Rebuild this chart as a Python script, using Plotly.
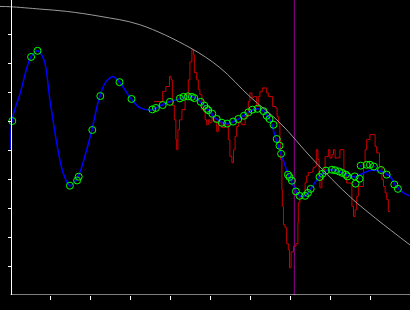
import plotly.graph_objects as go

# Gray reference curve
gray_x = [-0.26, 0.0, 0.74, 1.41, 2.24, 3.24, 4.49, 5.24, 5.99, 6.74, 7.57, 8.57, 9.99]
gray_y = [9.95, 9.94, 9.86, 9.78, 9.61, 9.32, 8.53, 7.84, 6.84, 5.94, 4.67, 3.29, 1.73]

# Blue smooth curve
blue_x = [0.01, 0.04, 0.24, 0.52, 0.68, 0.84, 0.99, 1.19, 1.32, 1.49, 1.69, 1.91, 2.04, 2.24,
          2.39, 2.57, 2.72, 3.02, 3.24, 3.54, 3.79, 3.99, 4.24, 4.44, 4.62, 4.77, 4.92, 5.14,
          5.42, 5.69, 5.94, 6.17, 6.32, 6.49, 6.64, 6.77, 6.97, 7.14, 7.24, 7.37, 7.52, 7.72,
          7.89, 8.04, 8.24, 8.44, 8.62, 8.79, 8.99, 9.16, 9.32, 9.49, 9.66, 9.82, 9.99]
blue_y = [5.01, 6.01, 6.92, 8.22, 8.42, 8.11, 6.73, 5.01, 4.22, 3.77, 4.08, 5.01, 5.70, 6.87,
          7.35, 7.53, 7.35, 6.77, 6.46, 6.39, 6.56, 6.67, 6.77, 6.86, 6.80, 6.63, 6.42, 6.08,
          5.91, 6.06, 6.29, 6.42, 6.36, 6.04, 5.39, 4.87, 4.08, 3.60, 3.41, 3.42, 3.67, 4.08,
          4.29, 4.32, 4.25, 4.11, 4.08, 4.18, 4.29, 4.29, 4.25, 4.09, 3.74, 3.53, 3.42]

# Green observation circles
obs_x = [0.05, 0.52, 0.68, 1.49, 1.67, 1.71, 2.05, 2.25, 2.73, 3.03, 3.55, 3.64, 3.81, 3.99,
         4.24, 4.33, 4.44, 4.54, 4.60, 4.76, 4.85, 4.91, 4.95, 5.05, 5.16, 5.29, 5.42, 5.57,
         5.70, 5.84, 5.95, 6.05, 6.18, 6.33, 6.41, 6.48, 6.58, 6.66, 6.73, 6.77, 6.94, 6.98,
         7.04, 7.14, 7.23, 7.37, 7.44, 7.51, 7.73, 7.80, 7.89, 8.04, 8.12, 8.22, 8.30, 8.39,
         8.43, 8.61, 8.63, 8.73, 8.76, 8.91, 8.99, 9.09, 9.27, 9.41, 9.60, 9.69]
obs_y = [6.00, 8.21, 8.42, 3.77, 3.95, 4.08, 5.69, 6.86, 7.34, 6.76, 6.40, 6.45, 6.55, 6.66,
         6.78, 6.83, 6.85, 6.83, 6.79, 6.66, 6.53, 6.42, 6.37, 6.25, 6.07, 5.94, 5.91, 5.98,
         6.07, 6.18, 6.30, 6.39, 6.42, 6.34, 6.18, 6.07, 5.87, 5.38, 5.15, 4.87, 4.15, 4.07,
         3.94, 3.57, 3.42, 3.42, 3.52, 3.66, 4.07, 4.18, 4.29, 4.32, 4.30, 4.26, 4.21, 4.15,
         4.09, 4.09, 3.84, 4.01, 4.46, 4.49, 4.49, 4.43, 4.31, 4.15, 3.81, 3.66]

# Red noisy step series
red_x = [3.59, 3.81, 3.89, 3.98, 4.02, 4.05, 4.10, 4.14, 4.16, 4.19, 4.23, 4.29, 4.37, 4.45,
         4.49, 4.54, 4.58, 4.60, 4.66, 4.70, 4.74, 4.79, 4.87, 4.91, 4.95, 4.99, 5.04, 5.09,
         5.16, 5.20, 5.29, 5.37, 5.45, 5.49, 5.54, 5.58, 5.62, 5.66, 5.70, 5.79, 5.87, 5.95,
         5.99, 6.04, 6.08, 6.16, 6.20, 6.24, 6.30, 6.37, 6.41, 6.45, 6.49, 6.56, 6.64, 6.67,
         6.70, 6.74, 6.76, 6.79, 6.80, 6.83, 6.87, 6.91, 6.95, 6.98, 7.02, 7.08, 7.14, 7.19,
         7.20, 7.24, 7.33, 7.37, 7.41, 7.45, 7.54, 7.57, 7.62, 7.65, 7.69, 7.72, 7.74, 7.79,
         7.83, 7.87, 7.95, 7.99, 8.04, 8.08, 8.12, 8.17, 8.24, 8.33, 8.34, 8.41, 8.49, 8.54,
         8.58, 8.62, 8.66, 8.70, 8.79, 8.83, 8.87, 8.91, 8.99, 9.10, 9.12, 9.16, 9.23, 9.29,
         9.33, 9.37, 9.41, 9.45, 9.49]
red_y = [6.67, 7.02, 7.19, 7.54, 7.42, 6.53, 6.04, 5.36, 5.01, 5.70, 6.04, 6.39, 6.91, 7.42,
         8.04, 8.46, 8.29, 7.67, 7.42, 7.08, 6.91, 6.39, 6.04, 5.87, 6.04, 5.94, 6.11, 5.98,
         5.64, 5.94, 5.77, 5.87, 5.36, 4.78, 4.56, 5.01, 5.47, 5.81, 5.94, 5.87, 6.16, 6.68,
         6.97, 6.80, 6.84, 6.50, 6.84, 7.01, 7.14, 7.14, 6.97, 6.84, 6.84, 6.50, 6.45, 6.16,
         5.93, 5.36, 4.67, 3.63, 3.06, 2.42, 2.32, 1.77, 1.56, 0.94, 1.49, 1.68, 1.77, 2.49,
         3.18, 3.39, 3.46, 3.87, 4.11, 4.22, 4.25, 4.39, 4.43, 5.01, 4.67, 4.09, 3.70, 3.98,
         4.32, 4.77, 5.01, 4.72, 4.84, 5.01, 4.72, 4.73, 5.01, 5.01, 4.09, 3.86, 3.86, 3.06,
         2.71, 2.94, 3.40, 3.74, 3.74, 4.55, 5.01, 5.36, 5.53, 5.53, 5.12, 4.90, 4.43, 3.98,
         3.74, 3.52, 3.29, 2.88, 2.88]

# Vertical marker line position
vline_x = 7.1

x_ticks = [1, 2, 3, 4, 5, 6, 7, 8, 9]
y_ticks = [1, 2, 3, 4, 5, 6, 7, 8, 9]

x_range = [-10.3 / 40, (410 - 10.3) / 40]
y_range = [0, 295 / 29]

fig = go.Figure()
fig.add_trace(go.Scatter(x=[vline_x, vline_x], y=y_range, mode="lines",
                         line=dict(color="#990099", width=1), hoverinfo="skip"))
fig.add_trace(go.Scatter(x=red_x, y=red_y, mode="lines", line_shape="hv",
                         line=dict(color="#cc0000", width=1)))
fig.add_trace(go.Scatter(x=blue_x, y=blue_y, mode="lines", line_shape="spline",
                         line=dict(color="#0000ff", width=1.5, smoothing=1.0)))
fig.add_trace(go.Scatter(x=obs_x, y=obs_y, mode="markers",
                         marker=dict(symbol="circle", size=2, color="#0000cc")))
fig.add_trace(go.Scatter(x=obs_x, y=obs_y, mode="markers",
                         marker=dict(symbol="circle-open", size=7, color="#00ff00",
                                     line=dict(width=1, color="#00ff00"))))
fig.add_trace(go.Scatter(x=gray_x, y=gray_y, mode="lines", line_shape="spline",
                         line=dict(color="#9a9a9a", width=1)))

yaxis_pos = 10.5 / 410
fig.add_shape(type="line", xref="paper", yref="y", x0=yaxis_pos, x1=1, y0=0, y1=0,
              line=dict(color="white", width=1))

fig.update_layout(
    width=410, height=310,
    margin=dict(l=0, r=0, t=0, b=15),
    paper_bgcolor="black", plot_bgcolor="black",
    showlegend=False,
    xaxis=dict(range=x_range, domain=[0, 1], showgrid=False, zeroline=False,
               showline=False, tickvals=x_ticks, ticks="outside", ticklen=4,
               tickwidth=1, tickcolor="white", showticklabels=False),
    yaxis=dict(range=y_range, anchor="free", position=yaxis_pos, showgrid=False,
               zeroline=False, showline=True, linecolor="white", linewidth=1,
               tickvals=y_ticks, ticks="outside", ticklen=3, tickwidth=1,
               tickcolor="white", showticklabels=False),
)

fig.write_html("out.html")
